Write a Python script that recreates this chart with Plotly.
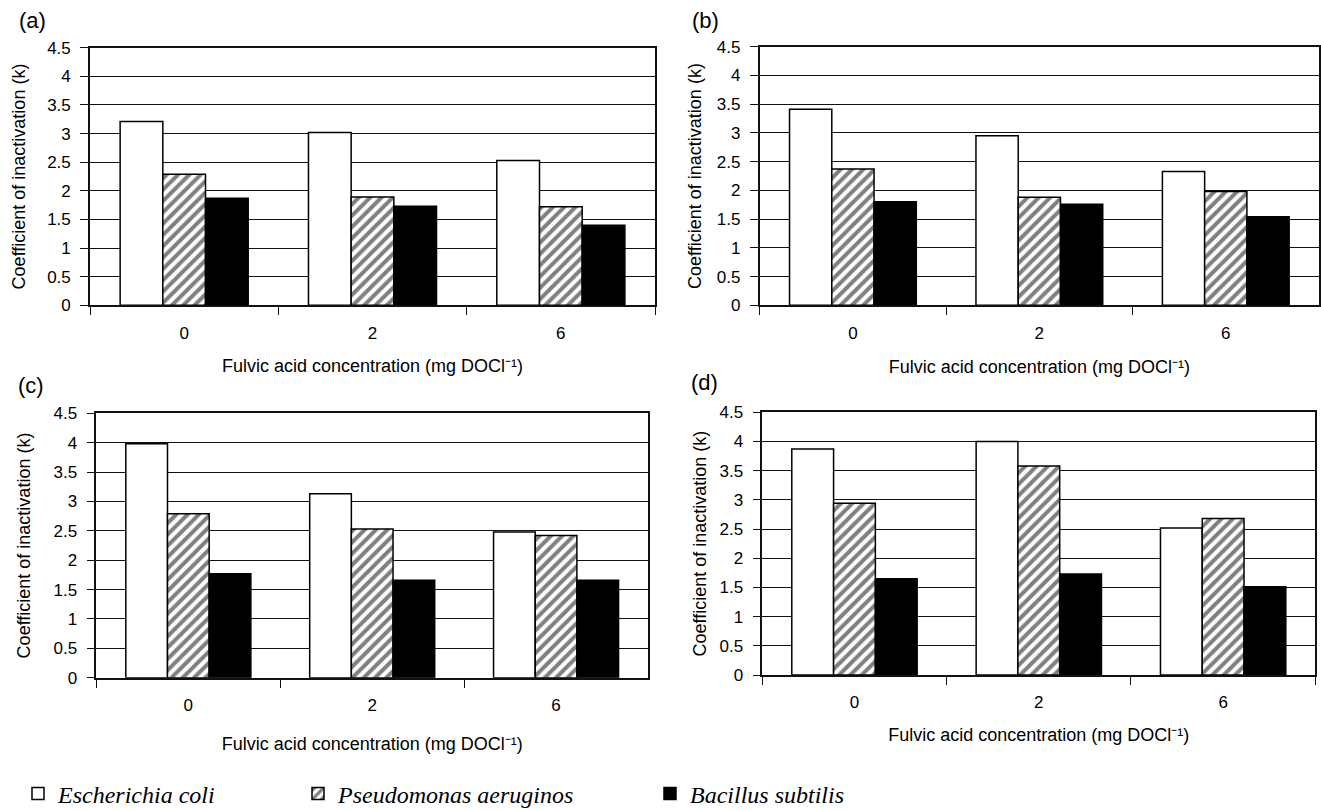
import plotly.graph_objects as go

# ---------------- data ----------------
categories = ["0", "2", "6"]
species = ["Escherichia coli", "Pseudomonas aeruginos", "Bacillus subtilis"]
panel_labels = ["(a)", "(b)", "(c)", "(d)"]

a_ecoli = [3.21, 3.02, 2.53]
a_pseud = [2.29, 1.89, 1.72]
a_bacil = [1.87, 1.73, 1.40]

b_ecoli = [3.41, 2.95, 2.33]
b_pseud = [2.37, 1.88, 1.98]
b_bacil = [1.80, 1.76, 1.54]

c_ecoli = [3.98, 3.13, 2.48]
c_pseud = [2.79, 2.53, 2.42]
c_bacil = [1.77, 1.66, 1.66]

d_ecoli = [3.87, 4.00, 2.52]
d_pseud = [2.94, 3.58, 2.68]
d_bacil = [1.65, 1.73, 1.51]

y_tickvals = [0, 0.5, 1, 1.5, 2, 2.5, 3, 3.5, 4, 4.5]
y_ticktext = ["0", "0.5", "1", "1.5", "2", "2.5", "3", "3.5", "4", "4.5"]

x_title = "Fulvic acid concentration (mg DOCl\u207b\u00b9)"
y_title = "Coefficient of inactivation (k)"

panels = [
    (a_ecoli, a_pseud, a_bacil),
    (b_ecoli, b_pseud, b_bacil),
    (c_ecoli, c_pseud, c_bacil),
    (d_ecoli, d_pseud, d_bacil),
]

# ---------------- layout geometry (pixels) ----------------
W, H = 1321, 810
# (left, right, top, bottom) of each plot area
boxes = [
    (90, 655, 47.7, 305.3),
    (759.7, 1319, 46.7, 305.3),
    (96.4, 648, 413.3, 677.7),
    (762.3, 1315.3, 412.3, 675),
]
label_pos = [(32, 21), (705, 21), (31, 385), (704, 383)]
x_standoff = [18, 19, 23, 17]
y_standoff = [17, 11, 18, 8]


def xf(px):
    return px / W


def yf(py):
    return 1 - py / H


SANS = "Liberation Sans, Arial, sans-serif"
AX_FONT = dict(family=SANS, size=17, color="black")
TITLE_FONT = dict(family=SANS, size=18, color="black")
LINE = "#111111"

fig = go.Figure()

legend_names = ["legend", "legend2", "legend3"]
for i, (ec, ps, bs) in enumerate(panels):
    n = "" if i == 0 else str(i + 1)
    xa, ya = "x" + n, "y" + n
    show = i == 0
    fig.add_trace(go.Bar(
        x=categories, y=ec, name=species[0], xaxis=xa, yaxis=ya,
        marker=dict(color="white", line=dict(color="black", width=1.5)),
        showlegend=show, legend=legend_names[0], hoverinfo="y",
    ))
    fig.add_trace(go.Bar(
        x=categories, y=ps, name=species[1], xaxis=xa, yaxis=ya,
        marker=dict(color="white", line=dict(color="black", width=1.5),
                    pattern=dict(shape="/", fgcolor="black", bgcolor="white",
                                 size=8, solidity=0.5)),
        showlegend=show, legend=legend_names[1], hoverinfo="y",
    ))
    fig.add_trace(go.Bar(
        x=categories, y=bs, name=species[2], xaxis=xa, yaxis=ya,
        marker=dict(color="black", line=dict(color="black", width=1.5)),
        showlegend=show, legend=legend_names[2], hoverinfo="y",
    ))

layout = dict(
    width=W, height=H,
    margin=dict(l=0, r=0, t=0, b=0, autoexpand=False),
    paper_bgcolor="white", plot_bgcolor="white",
    barmode="group", bargap=0.32, bargroupgap=0,
    font=AX_FONT,
    showlegend=True,
)

for i, (l, r, t, b) in enumerate(boxes):
    n = "" if i == 0 else str(i + 1)
    layout["xaxis" + n] = dict(
        domain=[xf(l), xf(r)], anchor="y" + n,
        type="category", categoryorder="array", categoryarray=categories,
        tickson="boundaries", ticks="outside", ticklen=8, tickwidth=1.4,
        tickcolor=LINE, showline=True, linecolor=LINE, linewidth=1.6,
        mirror=True, showgrid=False, tickfont=AX_FONT, ticklabelstandoff=11,
        title=dict(text=x_title, font=TITLE_FONT, standoff=x_standoff[i]),
        automargin=False, fixedrange=True,
    )
    layout["yaxis" + n] = dict(
        domain=[yf(b), yf(t)], anchor="x" + n,
        range=[0, 4.5], tickvals=y_tickvals, ticktext=y_ticktext,
        ticks="outside", ticklen=8, tickwidth=1.4, tickcolor=LINE,
        showline=True, linecolor=LINE, linewidth=1.6, mirror=True,
        showgrid=True, gridcolor=LINE, gridwidth=1.4, zeroline=False,
        tickfont=AX_FONT, ticklabelstandoff=6,
        title=dict(text=y_title, font=TITLE_FONT, standoff=y_standoff[i]),
        automargin=False, fixedrange=True,
    )

LEG_FONT = dict(family="Liberation Serif, Times New Roman, serif", size=24,
                color="black", style="italic")
leg_left = [18, 298, 650]
for name, lx in zip(legend_names, leg_left):
    layout[name] = dict(
        x=xf(lx), xanchor="left", y=yf(794), yanchor="middle",
        orientation="h", font=LEG_FONT, bgcolor="rgba(0,0,0,0)",
        borderwidth=0, itemwidth=30,
    )

fig.update_layout(**layout)

annotations = []
for lab, (px, py) in zip(panel_labels, label_pos):
    annotations.append(dict(
        text=lab, x=xf(px), y=yf(py), xref="paper", yref="paper",
        showarrow=False, xanchor="center", yanchor="middle",
        font=dict(family=SANS, size=22, color="black"),
    ))
fig.update_layout(annotations=annotations)

# remove the browser's default 8px page margin so the figure fills the window
fig.write_html(
    "out.html",
    config={"displayModeBar": False},
    post_script="document.body.style.margin='0px';"
                "document.body.style.overflow='hidden';",
)
